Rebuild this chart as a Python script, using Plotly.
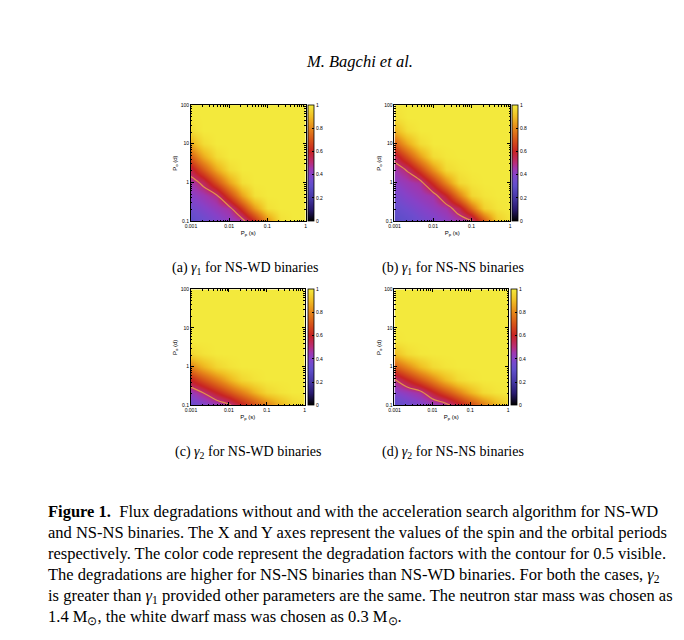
import numpy as np
import plotly.graph_objects as go

# grid of the maps (cell centres): spin period P_p (s) and orbital period P_o (d)
SPIN_PERIOD = [0.001, 0.00215, 0.00464, 0.01, 0.0215, 0.0464, 0.1, 0.215, 0.464, 1.0]
ORBIT_PERIOD = [0.1, 0.215, 0.464, 1.0, 2.15, 4.64, 10.0, 21.5, 46.4, 100.0]

SPIN_TICKS = [0.001, 0.01, 0.1, 1]
SPIN_TICK_TEXT = ['0.001', '0.01', '0.1', '1']
ORBIT_TICKS = [0.1, 1, 10, 100]
ORBIT_TICK_TEXT = ['0.1', '1', '10', '100']
CB_TICKS = [0, 0.2, 0.4, 0.6, 0.8, 1]
CB_TICK_TEXT = ['0', '0.2', '0.4', '0.6', '0.8', '1']

# degradation factors, rows = orbital period (bottom to top), columns = spin period
gamma1_nswd = [
    [0.30, 0.34, 0.38, 0.42, 0.46, 0.62, 0.82, 0.98, 1.00, 1.00],
    [0.35, 0.39, 0.43, 0.47, 0.645, 0.835, 0.98, 1.00, 1.00, 1.00],
    [0.40, 0.44, 0.49, 0.67, 0.845, 0.98, 1.00, 1.00, 1.00, 1.00],
    [0.45, 0.53, 0.69, 0.85, 0.975, 1.00, 1.00, 1.00, 1.00, 1.00],
    [0.56, 0.71, 0.86, 0.97, 1.00, 1.00, 1.00, 1.00, 1.00, 1.00],
    [0.72, 0.865, 0.97, 1.00, 1.00, 1.00, 1.00, 1.00, 1.00, 1.00],
    [0.87, 0.97, 1.00, 1.00, 1.00, 1.00, 1.00, 1.00, 1.00, 1.00],
    [0.97, 1.00, 1.00, 1.00, 1.00, 1.00, 1.00, 1.00, 1.00, 1.00],
    [0.995, 1.00, 1.00, 1.00, 1.00, 1.00, 1.00, 1.00, 1.00, 1.00],
    [1.00, 1.00, 1.00, 1.00, 1.00, 1.00, 1.00, 1.00, 1.00, 1.00],
]
gamma1_nsns = [
    [0.28, 0.31, 0.35, 0.38, 0.41, 0.45, 0.49, 0.71, 0.93, 0.99],
    [0.32, 0.355, 0.39, 0.42, 0.455, 0.55, 0.75, 0.945, 0.99, 1.00],
    [0.36, 0.40, 0.43, 0.46, 0.59, 0.78, 0.955, 0.99, 1.00, 1.00],
    [0.405, 0.44, 0.47, 0.63, 0.80, 0.96, 0.99, 1.00, 1.00, 1.00],
    [0.45, 0.51, 0.66, 0.82, 0.965, 0.99, 1.00, 1.00, 1.00, 1.00],
    [0.54, 0.69, 0.84, 0.97, 0.995, 1.00, 1.00, 1.00, 1.00, 1.00],
    [0.72, 0.86, 0.97, 1.00, 1.00, 1.00, 1.00, 1.00, 1.00, 1.00],
    [0.88, 0.975, 1.00, 1.00, 1.00, 1.00, 1.00, 1.00, 1.00, 1.00],
    [0.975, 1.00, 1.00, 1.00, 1.00, 1.00, 1.00, 1.00, 1.00, 1.00],
    [0.995, 1.00, 1.00, 1.00, 1.00, 1.00, 1.00, 1.00, 1.00, 1.00],
]
gamma2_nswd = [
    [0.33, 0.38, 0.43, 0.48, 0.59, 0.68, 0.78, 0.875, 0.955, 0.985],
    [0.43, 0.505, 0.60, 0.69, 0.78, 0.875, 0.955, 0.985, 1.00, 1.00],
    [0.60, 0.695, 0.785, 0.875, 0.955, 0.985, 1.00, 1.00, 1.00, 1.00],
    [0.79, 0.88, 0.955, 0.985, 1.00, 1.00, 1.00, 1.00, 1.00, 1.00],
    [0.955, 0.985, 1.00, 1.00, 1.00, 1.00, 1.00, 1.00, 1.00, 1.00],
    [1.00, 1.00, 1.00, 1.00, 1.00, 1.00, 1.00, 1.00, 1.00, 1.00],
    [1.00, 1.00, 1.00, 1.00, 1.00, 1.00, 1.00, 1.00, 1.00, 1.00],
    [1.00, 1.00, 1.00, 1.00, 1.00, 1.00, 1.00, 1.00, 1.00, 1.00],
    [1.00, 1.00, 1.00, 1.00, 1.00, 1.00, 1.00, 1.00, 1.00, 1.00],
    [1.00, 1.00, 1.00, 1.00, 1.00, 1.00, 1.00, 1.00, 1.00, 1.00],
]
gamma2_nsns = [
    [0.30, 0.34, 0.38, 0.42, 0.46, 0.56, 0.665, 0.77, 0.875, 0.96],
    [0.39, 0.43, 0.47, 0.58, 0.68, 0.78, 0.88, 0.965, 0.99, 1.00],
    [0.49, 0.595, 0.695, 0.79, 0.89, 0.965, 0.99, 1.00, 1.00, 1.00],
    [0.705, 0.80, 0.895, 0.965, 0.99, 1.00, 1.00, 1.00, 1.00, 1.00],
    [0.90, 0.97, 0.995, 1.00, 1.00, 1.00, 1.00, 1.00, 1.00, 1.00],
    [0.99, 1.00, 1.00, 1.00, 1.00, 1.00, 1.00, 1.00, 1.00, 1.00],
    [1.00, 1.00, 1.00, 1.00, 1.00, 1.00, 1.00, 1.00, 1.00, 1.00],
    [1.00, 1.00, 1.00, 1.00, 1.00, 1.00, 1.00, 1.00, 1.00, 1.00],
    [1.00, 1.00, 1.00, 1.00, 1.00, 1.00, 1.00, 1.00, 1.00, 1.00],
    [1.00, 1.00, 1.00, 1.00, 1.00, 1.00, 1.00, 1.00, 1.00, 1.00],
]

panel_labels = [
    '(a) <i>γ</i><sub>1</sub> for NS-WD binaries',
    '(b) <i>γ</i><sub>1</sub> for NS-NS binaries',
    '(c) <i>γ</i><sub>2</sub> for NS-WD binaries',
    '(d) <i>γ</i><sub>2</sub> for NS-NS binaries',
]

caption_lines = [
    '<b>Figure 1.</b>\u00a0 Flux degradations without and with the acceleration search algorithm for NS-WD',
    'and NS-NS binaries. The X and Y axes represent the values of the spin and the orbital periods',
    'respectively. The color code represent the degradation factors with the contour for 0.5 visible.',
    'The degradations are higher for NS-NS binaries than NS-WD binaries. For both the cases, <i>γ</i><sub>2</sub>',
    'is greater than <i>γ</i><sub>1</sub> provided other parameters are the same. The neutron star mass was chosen as',
    '1.4 M<sub>⊙</sub>, the white dwarf mass was chosen as 0.3 M<sub>⊙</sub>.',
]

W, H = 684, 640

# gnuplot-like palette
palette = [
    [0.0, 'rgb(0,0,0)'], [0.1, 'rgb(40,25,110)'], [0.2, 'rgb(70,55,165)'],
    [0.3, 'rgb(95,78,202)'], [0.35, 'rgb(112,76,206)'], [0.4, 'rgb(135,66,200)'],
    [0.45, 'rgb(160,55,175)'], [0.5, 'rgb(185,45,120)'],
    [0.6, 'rgb(200,35,35)'], [0.7, 'rgb(215,85,25)'], [0.8, 'rgb(230,135,25)'],
    [0.9, 'rgb(240,190,35)'], [1.0, 'rgb(243,233,60)'],
]


def log_edges(c):
    l = np.log10(c)
    mid = (l[:-1] + l[1:]) / 2
    return 10 ** np.concatenate([[2 * l[0] - mid[0]], mid, [2 * l[-1] - mid[-1]]])


# plot boxes in pixels: left, right, top, bottom, colorbar left
boxes = [
    (179, 295, 95, 212, 297.5),
    (385, 502, 95, 212, 504),
    (179, 294, 281, 398, 297.5),
    (385, 500, 281, 398, 503),
]
label_pos = [(234, 260), (444, 260), (237, 446), (444, 446)]

fig = go.Figure()
x_edges = log_edges(SPIN_PERIOD)
y_edges = log_edges(ORBIT_PERIOD)
tickfont = dict(family='Liberation Sans', size=5, color='black')

for k, z in enumerate([gamma1_nswd, gamma1_nsns, gamma2_nswd, gamma2_nsns]):
    n = '' if k == 0 else str(k + 1)
    l, r, t, b, cbx = boxes[k]
    fig.add_trace(go.Heatmap(
        x=x_edges, y=y_edges, z=z, zmin=0, zmax=1, zsmooth='best',
        colorscale=palette, xaxis='x' + n, yaxis='y' + n,
        colorbar=dict(x=cbx / W, xanchor='left', y=1 - (t + b) / 2 / H, yanchor='middle',
                      len=(b - t) / H, lenmode='fraction', thickness=6, xpad=0, ypad=0,
                      outlinewidth=0.8, outlinecolor='black', ticks='inside', ticklen=2,
                      tickcolor='black', tickvals=CB_TICKS, ticktext=CB_TICK_TEXT,
                      tickfont=tickfont)))
    fig.add_trace(go.Contour(
        x=SPIN_PERIOD, y=ORBIT_PERIOD, z=z, showscale=False, hoverinfo='skip',
        contours=dict(start=0.5, end=0.5, size=1, coloring='none'),
        line=dict(color='rgb(226,148,72)', width=1.2),
        xaxis='x' + n, yaxis='y' + n))
    ax = dict(type='log', showline=True, linecolor='black', linewidth=0.8, mirror='allticks',
              ticks='inside', ticklen=3, tickwidth=0.7, tickcolor='black', showgrid=False,
              zeroline=False, tickfont=tickfont,
              minor=dict(ticks='inside', ticklen=1.5, tickwidth=0.5, tickcolor='black',
                         dtick='D1', showgrid=False))
    fig.update_layout({
        'xaxis' + n: dict(ax, domain=[l / W, r / W], range=[-3, 0], anchor='y' + n,
                          tickvals=SPIN_TICKS, ticktext=SPIN_TICK_TEXT,
                          title=dict(text='P<sub>p</sub> (s)', standoff=2,
                                     font=dict(family='Liberation Sans', size=6))),
        'yaxis' + n: dict(ax, domain=[1 - b / H, 1 - t / H], range=[-1, 2], anchor='x' + n,
                          tickvals=ORBIT_TICKS, ticktext=ORBIT_TICK_TEXT,
                          title=dict(text='P<sub>o</sub> (d)', standoff=2,
                                     font=dict(family='Liberation Sans', size=6))),
    })
    fig.add_annotation(x=label_pos[k][0] / W, y=1 - label_pos[k][1] / H, xref='paper', yref='paper',
                       text=panel_labels[k], showarrow=False, xanchor='center', yanchor='middle',
                       font=dict(family='Liberation Serif', size=14, color='black'))

fig.add_annotation(x=350 / W, y=1 - 51 / H, xref='paper', yref='paper', text='<i>M. Bagchi et al.</i>',
                   showarrow=False, xanchor='center', yanchor='middle',
                   font=dict(family='Liberation Serif', size=16.5, color='black'))

line_y = [505.5, 526.8, 548.1, 569.4, 590.7, 612]
for txt, py in zip(caption_lines, line_y):
    fig.add_annotation(x=32 / W, y=1 - py / H, xref='paper', yref='paper', text=txt,
                       showarrow=False, xanchor='left', yanchor='middle', align='left',
                       font=dict(family='Liberation Serif', size=16.5, color='black'))

fig.update_layout(width=W, height=H, margin=dict(l=0, r=0, t=0, b=0), showlegend=False,
                  paper_bgcolor='white', plot_bgcolor='white',
                  font=dict(family='Liberation Serif', color='black'))

fig.write_html('out.html')
